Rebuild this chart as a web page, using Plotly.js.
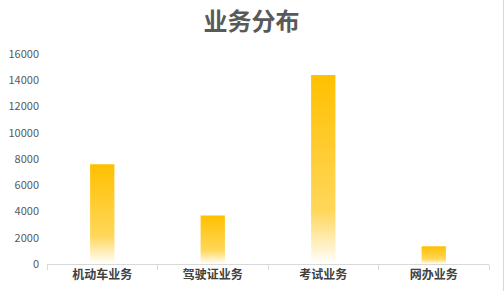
<!DOCTYPE html>
<html>
<head>
<meta charset="utf-8">
<script src="https://cdn.plot.ly/plotly-3.0.1.min.js"></script>
<style>
html,body{margin:0;padding:0;background:#fff;}
#chart{width:503px;height:291px;border-right:1px solid #d9d9d9;}
</style>
</head>
<body>
<div id="chart"></div>
<script>
var categories = ['机动车业务', '驾驶证业务', '考试业务', '网办业务'];
var values = [7600, 3700, 14400, 1350];
var tickValues = [0, 2000, 4000, 6000, 8000, 10000, 12000, 14000, 16000];

var trace = {
  type: 'bar',
  x: categories,
  y: values,
  width: 0.22,
  marker: {color: '#FFC000', line: {width: 0}},
  hoverinfo: 'x+y'
};

var layout = {
  width: 503,
  height: 291,
  margin: {l: 47, r: 14, t: 54, b: 27, pad: 0},
  paper_bgcolor: '#ffffff',
  plot_bgcolor: '#ffffff',
  showlegend: false,
  title: {
    text: '<b>业务分布</b>',
    font: {family: 'Noto Sans CJK SC', size: 24, color: '#595959'},
    x: 0.5, xanchor: 'center',
    y: 0.925, yanchor: 'middle'
  },
  xaxis: {
    showgrid: false,
    showline: true,
    linecolor: '#d9d9d9',
    linewidth: 1,
    ticks: 'outside',
    tickson: 'boundaries',
    ticklen: 5,
    tickcolor: '#d9d9d9',
    tickfont: {family: 'Noto Sans CJK SC', size: 12, color: '#404040', weight: 'bold'},
    fixedrange: true
  },
  yaxis: {
    range: [0, 16000],
    tickvals: tickValues,
    ticktext: tickValues.map(String),
    showgrid: false,
    zeroline: false,
    showline: false,
    ticks: '',
    ticklabelstandoff: 7,
    tickfont: {family: 'Noto Sans CJK SC', size: 11, color: '#595959'},
    fixedrange: true
  }
};

Plotly.newPlot('chart', [trace], layout, {displayModeBar: false, staticPlot: true}).then(function(gd){
  var svgNS = 'http://www.w3.org/2000/svg';
  var svg = gd.querySelector('svg.main-svg');
  var defs = svg.querySelector('defs') || svg.insertBefore(document.createElementNS(svgNS, 'defs'), svg.firstChild);
  var grad = document.createElementNS(svgNS, 'linearGradient');
  grad.setAttribute('id', 'barGrad');
  grad.setAttribute('x1', '0'); grad.setAttribute('y1', '0');
  grad.setAttribute('x2', '0'); grad.setAttribute('y2', '1');
  [['0', '#FFC000'], ['0.72', '#FFD75A'], ['1', '#FFFFFF']].forEach(function(s){
    var st = document.createElementNS(svgNS, 'stop');
    st.setAttribute('offset', s[0]);
    st.setAttribute('stop-color', s[1]);
    grad.appendChild(st);
  });
  defs.appendChild(grad);
  gd.querySelectorAll('.trace.bars .point path').forEach(function(p){
    p.style.fill = 'url(#barGrad)';
  });
});
</script>
</body>
</html>
